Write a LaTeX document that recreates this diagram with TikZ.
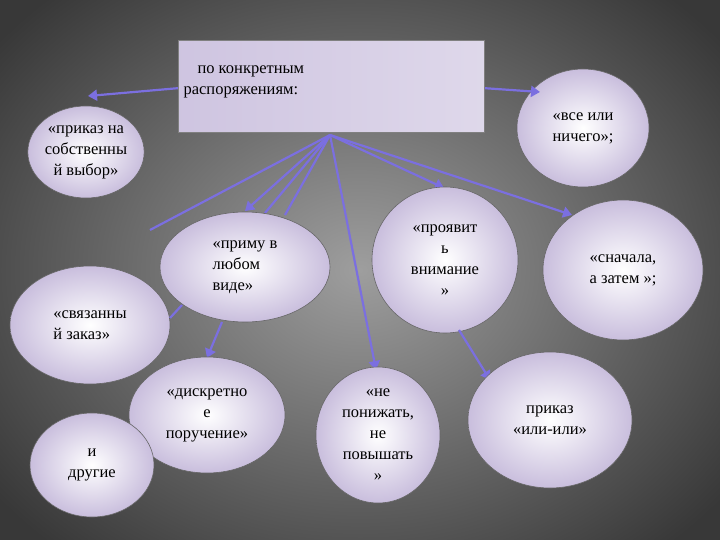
\documentclass[tikz,border=0pt]{standalone}
\usepackage{fontspec}
\setmainfont{Liberation Serif}
\usetikzlibrary{arrows.meta,shadings,shapes.geometric}
\definecolor{arr}{HTML}{7B6FE0}
\definecolor{lav}{HTML}{C9BEDD}
\tikzset{
 el/.style={draw=black!60,line width=0.6pt,ellipse,inner sep=0pt,inner color=white,outer color=lav,font=\fontsize{16.5}{21}\selectfont,align=center},
 ar/.style={arr,line width=2.2pt,-{Triangle[length=9pt,width=11pt]}},
 ln/.style={arr,line width=2.2pt},
}
\begin{document}
\begin{tikzpicture}[x=1pt,y=-1pt]
\useasboundingbox (0,0) rectangle (720,540);
\fill[black!70] (0,0) rectangle (720,540);
\shade[inner color=black!38,outer color=black!78] (-100,-100) rectangle (820,640);
\coordinate (s) at (330,135);
\coordinate (sl) at (180,88);
\coordinate (sr) at (482,88);
\node[el,minimum width=112pt,minimum height=92pt] (A) at (86,152) {«приказ на\\собственны\\й выбор»};
\node[el,minimum width=132pt,minimum height=118pt] (B) at (583,128) {«все или\\ничего»;};
\draw[ar] (sl) -- (88,96);
\draw[ar] (sr) -- (540,92);
\draw[ln] (s) -- (150,230);
\draw[ar] (s) -- (245,211);
\draw[ln] (s) -- (265,213);
\draw[ln] (s) -- (285,215);
\draw[ar] (s) -- (444,188);
\draw[ar] (s) -- (572,215);
\draw[ar] (s) -- (376,370);
\node[draw=black!50,line width=0.6pt,minimum width=306pt,minimum height=92pt,left color=lav!90,right color=lav!60!white,anchor=north west] (top) at (178,40) {};
\node[font=\fontsize{16.5}{21}\selectfont,align=left,anchor=north west] (tt) at (180,62) {\hspace*{14pt}по конкретным\\распоряжениям:};
\node[el,minimum width=170pt,minimum height=110pt,align=left] (C) at (245,267) {«приму в\\любом\\виде»};
\node[el,minimum width=146pt,minimum height=146pt] (D) at (445,260) {«проявит\\ь\\внимание\\»};
\node[el,minimum width=160pt,minimum height=140pt] (E) at (623,270) {«сначала,\\а затем »;};
\node[el,minimum width=160pt,minimum height=118pt,align=left] (F) at (90,325) {«связанны\\й заказ»};
\draw[ar] (459,330) -- (490,380);
\draw[ar] (222,322) -- (207,358);
\draw[ln] (182,305) -- (170,318);
\node[el,minimum width=156pt,minimum height=116pt] (G) at (207,415) {«дискретно\\е\\поручение»};
\node[el,minimum width=124pt,minimum height=136pt] (H) at (378,435) {«не\\понижать,\\не\\повышать\\»};
\node[el,minimum width=164pt,minimum height=136pt] (I) at (550,420) {приказ\\«или-или»};
\node[el,minimum width=124pt,minimum height=104pt] (J) at (92,465) {и\\другие};
\end{tikzpicture}
\end{document}
